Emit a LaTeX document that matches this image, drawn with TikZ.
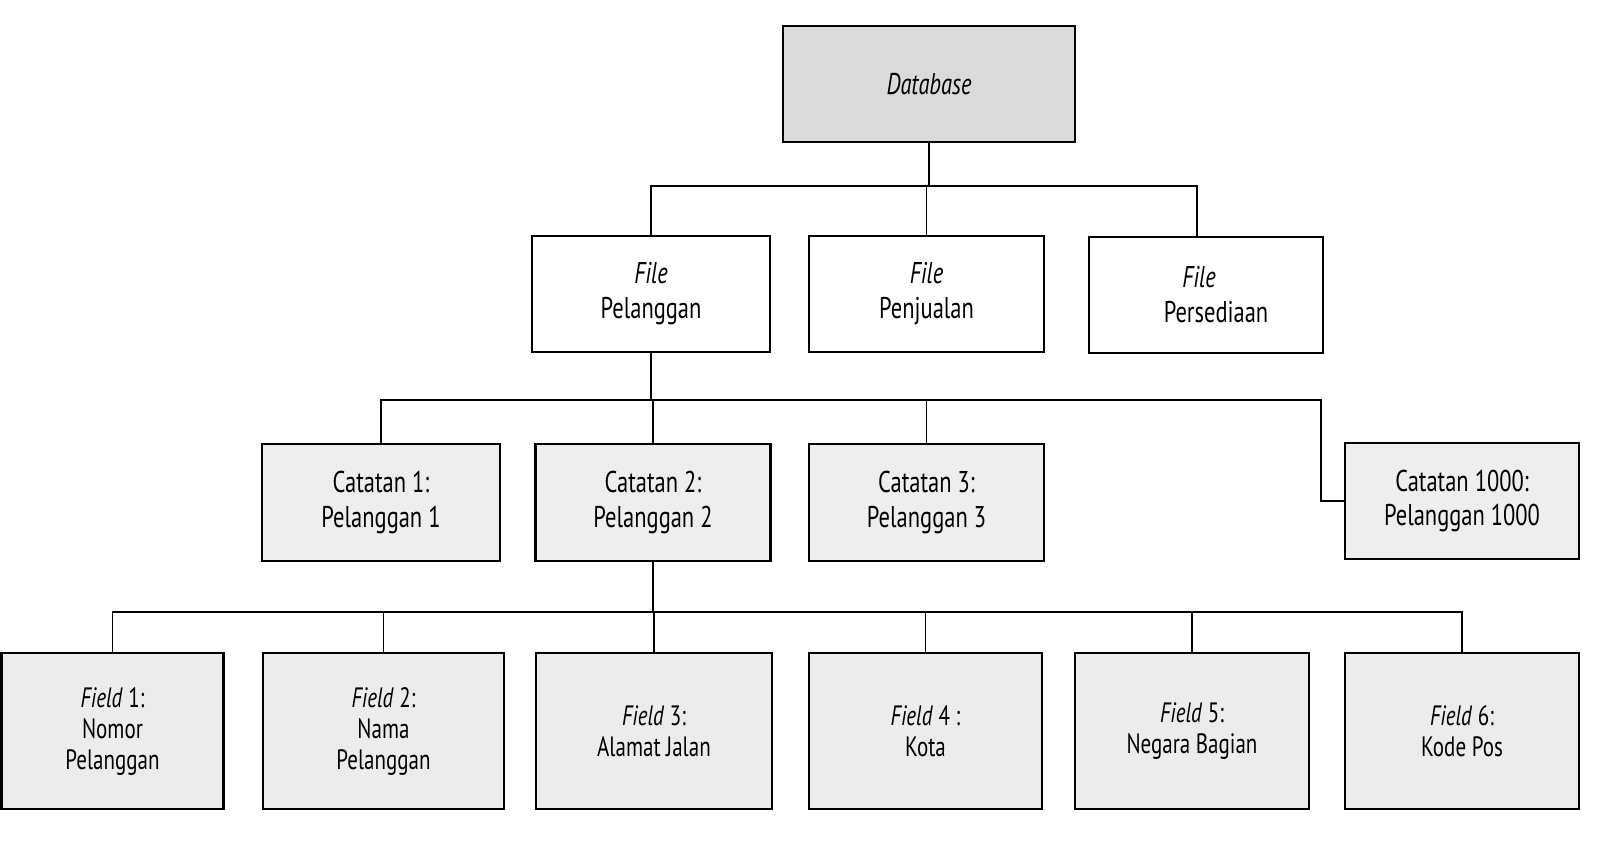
\documentclass[tikz,border=0pt]{standalone}
\usepackage{fontspec}
\setmainfont{PT Sans}[FakeStretch=0.75]
\begin{document}
\begin{tikzpicture}[x=1pt,y=1pt,
  box/.style={draw=black, line width=2.2pt, inner sep=0pt, align=center, font=\fontsize{30}{35}\selectfont},
  plainbox/.style={box, fill=white},
  greybox/.style={box, fill=gray!13},
  darkbox/.style={box, fill=gray!28},
  fieldbox/.style={box, fill=gray!15, font=\fontsize{28}{31}\selectfont},
  conn/.style={line width=1.8pt}]
\fill[white] (0,0) rectangle (1600,855);
\useasboundingbox (0,0) rectangle (1600,855);

% level 0
\node[darkbox, minimum width=292pt, minimum height=116pt] (db) at (929,771) {\textit{Database}};

% level 1
\node[plainbox, minimum width=238pt, minimum height=116pt] (f1) at (651,561) {\textit{File}\\Pelanggan};
\node[plainbox, minimum width=235pt, minimum height=116pt] (f2) at (926.5,561) {\textit{File}\\Penjualan};
\node[plainbox, minimum width=234pt, minimum height=116pt] (f3) at (1206,560) {\textit{File}\hspace*{14pt}\\\hspace*{20pt}Persediaan};

% level 2
\node[greybox, minimum width=238pt, minimum height=117pt] (c1) at (381,352.5) {Catatan 1:\\Pelanggan 1};
\node[greybox, minimum width=235pt, minimum height=117pt] (c2) at (653,352.5) {Catatan 2:\\Pelanggan 2};
\node[greybox, minimum width=235pt, minimum height=117pt] (c3) at (926.5,352.5) {Catatan 3:\\Pelanggan 3};
\node[greybox, minimum width=234pt, minimum height=116pt] (c4) at (1462,354) {Catatan 1000:\\Pelanggan 1000};

% level 3
\node[fieldbox, minimum width=222pt, minimum height=156pt] (d1) at (112.5,124) {\textit{Field} 1:\\Nomor\\Pelanggan};
\node[fieldbox, minimum width=241pt, minimum height=156pt] (d2) at (383.5,124) {\textit{Field} 2:\\Nama\\Pelanggan};
\node[fieldbox, minimum width=236pt, minimum height=156pt] (d3) at (654,124) {\textit{Field} 3:\\Alamat Jalan};
\node[fieldbox, minimum width=233pt, minimum height=156pt] (d4) at (925.5,124) {\textit{Field} 4 :\\Kota};
\node[fieldbox, minimum width=234pt, minimum height=156pt] (d5) at (1192,124) {\textit{Field} 5:\\Negara Bagian};
\node[fieldbox, minimum width=234pt, minimum height=156pt] (d6) at (1462,124) {\textit{Field} 6:\\Kode Pos};

% bus coordinates
\coordinate (bus1) at (0,669);
\coordinate (bus2) at (0,455);
\coordinate (bus2end) at (1321,455);
\coordinate (bus3) at (0,243);
\coordinate (f3t) at ([xshift=-9pt]f3.north);

% connectors level 0 -> 1
\draw[conn] (db.south) -- (db.south |- bus1);
\draw[conn] (f1.north) |- (f3t |- bus1) -- (f3t);
\draw[conn] (f2.north) -- (f2.north |- bus1);

% connectors level 1 -> 2
\draw[conn] (f1.south) -- (f1.south |- bus2);
\draw[conn] (c1.north) |- (bus2end) |- (c4.west);
\draw[conn] (c2.north) -- (c2.north |- bus2);
\draw[conn] (c3.north) -- (c3.north |- bus2);

% connectors level 2 -> 3
\draw[conn] (c2.south) -- (c2.south |- bus3);
\draw[conn] (d1.north) |- (d6.north |- bus3) -- (d6.north);
\draw[conn] (d2.north) -- (d2.north |- bus3);
\draw[conn] (d3.north) -- (d3.north |- bus3);
\draw[conn] (d4.north) -- (d4.north |- bus3);
\draw[conn] (d5.north) -- (d5.north |- bus3);
\end{tikzpicture}
\end{document}
